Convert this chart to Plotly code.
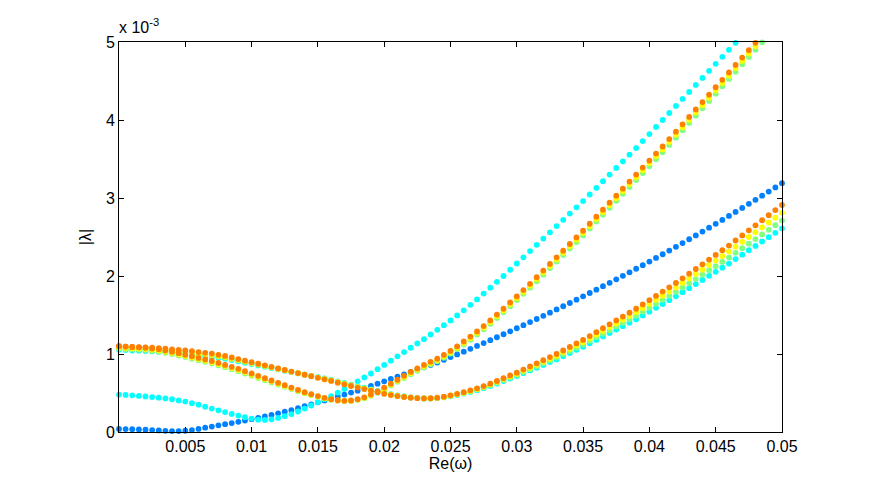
import plotly.graph_objects as go

# Re(omega) grid step (every curve sampled at the same Re(omega) values)
RE_STEP = 0.0005

# |lambda| values in units of 1e-3
blue = [0.040,0.038,0.035,0.033,0.030,0.025,0.020,0.015,0.012,0.012,0.016,0.025,0.040,0.055,0.070,0.085,0.100,0.115,0.130,0.147,
        0.165,0.182,0.200,0.220,0.240,0.260,0.280,0.305,0.330,0.355,0.380,0.405,0.430,0.455,0.480,0.505,0.530,0.560,0.590,0.620,
        0.650,0.680,0.710,0.740,0.770,0.800,0.830,0.860,0.890,0.925,0.960,0.995,1.030,1.066,1.103,1.140,1.177,1.215,1.253,1.291,
        1.330,1.370,1.409,1.449,1.489,1.530,1.571,1.612,1.654,1.696,1.739,1.782,1.825,1.869,1.913,1.957,2.002,2.047,2.093,2.139,
        2.185,2.232,2.279,2.326,2.374,2.422,2.471,2.520,2.569,2.619,2.669,2.719,2.770,2.821,2.873,2.925,2.977,3.030,3.083,3.136,3.190]

cyan_a = [0.480,0.475,0.470,0.463,0.455,0.448,0.440,0.430,0.420,0.405,0.390,0.370,0.350,0.325,0.300,0.278,0.255,0.232,0.210,0.190,
          0.172,0.158,0.155,0.163,0.180,0.203,0.230,0.263,0.300,0.340,0.380,0.420,0.460,0.505,0.550,0.600,0.650,0.700,0.750,0.805,
          0.860,0.915,0.970,1.025,1.080,1.135,1.190,1.250,1.310,1.370,1.430,1.495,1.560,1.630,1.700,1.775,1.850,1.925,2.000,2.080,
          2.160,2.240,2.320,2.400,2.480,2.560,2.640,2.720,2.800,2.880,2.960,3.045,3.130,3.215,3.300,3.385,3.470,3.555,3.640,3.730,
          3.820,3.910,4.000,4.090,4.180,4.270,4.360,4.450,4.540,4.630,4.720,4.810,4.900,4.990]

cyan_b = [1.055,1.050,1.045,1.043,1.040,1.035,1.030,1.023,1.015,1.008,1.000,0.990,0.980,0.972,0.963,0.951,0.939,0.922,0.905,0.888,
          0.871,0.854,0.837,0.820,0.803,0.786,0.769,0.752,0.735,0.720,0.704,0.687,0.670,0.649,0.628,0.608,0.588,0.567,0.545,0.524,
          0.502,0.485,0.469,0.455,0.443,0.436,0.431,0.430,0.434,0.444,0.458,0.474,0.492,0.513,0.536,0.562,0.590,0.621,0.654,0.686,
          0.718,0.754,0.789,0.825,0.860,0.896,0.931,0.972,1.012,1.053,1.093,1.137,1.181,1.225,1.269,1.313,1.357,1.401,1.445,1.494,
          1.543,1.592,1.641,1.690,1.739,1.792,1.844,1.897,1.949,2.002,2.054,2.107,2.159,2.217,2.274,2.330,2.386,2.442,2.498,2.554,2.610]

green_a = [1.070,1.065,1.060,1.055,1.050,1.040,1.030,1.015,1.000,0.980,0.960,0.940,0.920,0.900,0.880,0.855,0.830,0.805,0.780,0.750,
           0.720,0.692,0.664,0.636,0.608,0.580,0.552,0.524,0.496,0.473,0.450,0.430,0.414,0.403,0.396,0.399,0.412,0.433,0.464,0.502,
           0.546,0.595,0.644,0.692,0.741,0.785,0.829,0.868,0.906,0.953,1.004,1.061,1.122,1.183,1.249,1.316,1.387,1.461,1.534,1.613,
           1.692,1.771,1.850,1.933,2.017,2.101,2.185,2.269,2.352,2.436,2.520,2.609,2.698,2.786,2.875,2.964,3.053,3.142,3.230,3.319,
           3.408,3.497,3.586,3.680,3.774,3.868,3.962,4.056,4.150,4.244,4.338,4.432,4.526,4.620,4.714,4.808,4.902,4.996]

green_b = [1.070,1.065,1.060,1.058,1.055,1.050,1.045,1.038,1.030,1.023,1.015,1.005,0.995,0.986,0.977,0.964,0.951,0.933,0.915,0.897,
           0.879,0.861,0.843,0.825,0.807,0.789,0.771,0.753,0.735,0.718,0.701,0.683,0.665,0.643,0.622,0.602,0.582,0.561,0.540,0.519,
           0.498,0.481,0.466,0.453,0.442,0.435,0.431,0.431,0.436,0.447,0.462,0.479,0.498,0.520,0.544,0.571,0.600,0.632,0.666,0.699,
           0.732,0.769,0.806,0.843,0.880,0.917,0.954,0.996,1.038,1.080,1.122,1.168,1.214,1.260,1.306,1.352,1.398,1.444,1.490,1.541,
           1.592,1.643,1.694,1.745,1.796,1.851,1.906,1.961,2.016,2.071,2.126,2.181,2.236,2.296,2.356,2.415,2.474,2.533,2.592,2.651,2.710]

yellow_a = [1.085,1.080,1.075,1.070,1.065,1.055,1.045,1.030,1.015,0.995,0.975,0.955,0.935,0.915,0.895,0.870,0.845,0.820,0.795,0.765,
            0.735,0.706,0.677,0.648,0.619,0.590,0.561,0.532,0.503,0.479,0.455,0.434,0.417,0.405,0.398,0.402,0.416,0.439,0.472,0.512,
            0.558,0.607,0.657,0.706,0.756,0.800,0.844,0.884,0.923,0.971,1.022,1.079,1.141,1.203,1.270,1.337,1.408,1.483,1.557,1.637,
            1.716,1.795,1.875,1.959,2.044,2.128,2.212,2.297,2.381,2.466,2.550,2.639,2.729,2.818,2.908,2.997,3.086,3.176,3.265,3.355,
            3.444,3.534,3.623,3.718,3.812,3.907,4.001,4.096,4.190,4.285,4.379,4.474,4.568,4.663,4.757,4.852,4.946]

yellow_b = [1.085,1.080,1.075,1.073,1.070,1.065,1.060,1.053,1.045,1.038,1.030,1.020,1.010,1.000,0.991,0.977,0.963,0.944,0.925,0.906,
            0.887,0.868,0.849,0.830,0.811,0.792,0.773,0.754,0.735,0.717,0.698,0.679,0.660,0.638,0.616,0.596,0.576,0.556,0.535,0.515,
            0.494,0.478,0.463,0.451,0.441,0.435,0.431,0.432,0.438,0.450,0.466,0.484,0.504,0.527,0.552,0.580,0.610,0.643,0.678,0.712,
            0.746,0.785,0.823,0.862,0.900,0.939,0.977,1.021,1.064,1.108,1.151,1.199,1.247,1.295,1.343,1.391,1.439,1.487,1.535,1.588,
            1.641,1.694,1.747,1.800,1.853,1.911,1.968,2.026,2.083,2.141,2.198,2.256,2.313,2.376,2.438,2.500,2.562,2.624,2.686,2.748,2.810]

orange_a = [1.100,1.095,1.090,1.085,1.080,1.070,1.060,1.045,1.030,1.010,0.990,0.970,0.950,0.930,0.910,0.885,0.860,0.835,0.810,0.780,
            0.750,0.720,0.690,0.660,0.630,0.600,0.570,0.540,0.510,0.485,0.460,0.438,0.420,0.407,0.400,0.405,0.420,0.445,0.480,0.522,
            0.570,0.620,0.670,0.720,0.770,0.815,0.860,0.900,0.940,0.988,1.040,1.098,1.160,1.223,1.290,1.358,1.430,1.505,1.580,1.660,
            1.740,1.820,1.900,1.985,2.070,2.155,2.240,2.325,2.410,2.495,2.580,2.670,2.760,2.850,2.940,3.030,3.120,3.210,3.300,3.390,
            3.480,3.570,3.660,3.755,3.850,3.945,4.040,4.135,4.230,4.325,4.420,4.515,4.610,4.705,4.800,4.895,4.990]

orange_b = [1.100,1.095,1.090,1.088,1.085,1.080,1.075,1.068,1.060,1.053,1.045,1.035,1.025,1.015,1.005,0.990,0.975,0.955,0.935,0.915,
            0.895,0.875,0.855,0.835,0.815,0.795,0.775,0.755,0.735,0.715,0.695,0.675,0.655,0.632,0.610,0.590,0.570,0.550,0.530,0.510,
            0.490,0.474,0.460,0.449,0.440,0.434,0.431,0.433,0.440,0.453,0.470,0.489,0.510,0.534,0.560,0.589,0.620,0.654,0.690,0.725,
            0.760,0.800,0.840,0.880,0.920,0.960,1.000,1.045,1.090,1.135,1.180,1.230,1.280,1.330,1.380,1.430,1.480,1.530,1.580,1.635,
            1.690,1.745,1.800,1.855,1.910,1.970,2.030,2.090,2.150,2.210,2.270,2.330,2.390,2.455,2.520,2.585,2.650,2.715,2.780,2.845,2.910]

X_TICKS = [0.005, 0.01, 0.015, 0.02, 0.025, 0.03, 0.035, 0.04, 0.045, 0.05]
X_TICK_LABELS = ["0.005", "0.01", "0.015", "0.02", "0.025", "0.03", "0.035", "0.04", "0.045", "0.05"]
Y_TICKS = [0, 1, 2, 3, 4, 5]
Y_TICK_LABELS = ["0", "1", "2", "3", "4", "5"]

COL_BLUE = "#0080FF"
COL_CYAN = "#00FFFF"
COL_GREEN = "#80FF80"
COL_YELLOW = "#FFFF00"
COL_ORANGE = "#FF8000"

series = [
    (blue, COL_BLUE),
    (cyan_a, COL_CYAN), (cyan_b, COL_CYAN),
    (green_a, COL_GREEN), (green_b, COL_GREEN),
    (yellow_a, COL_YELLOW), (yellow_b, COL_YELLOW),
    (orange_a, COL_ORANGE), (orange_b, COL_ORANGE),
]

fig = go.Figure()
for vals, col in series:
    xs = [round(i * RE_STEP, 6) for i in range(len(vals))]
    fig.add_trace(go.Scatter(
        x=xs, y=vals, mode="markers",
        marker=dict(color=col, size=5.8, line=dict(width=0)),
        cliponaxis=False, showlegend=False, hoverinfo="skip"))

FONT = "Liberation Sans, Arial, Helvetica, sans-serif"
axis_common = dict(showline=True, linecolor="black", linewidth=1, mirror="allticks",
                   ticks="inside", ticklen=5, tickcolor="black", tickwidth=1,
                   showgrid=False, zeroline=False,
                   tickfont=dict(family=FONT, size=16, color="black"))

fig.update_layout(
    width=872, height=488,
    margin=dict(l=119, r=90, t=42, b=56),
    paper_bgcolor="white", plot_bgcolor="white",
    xaxis=dict(range=[0, 0.05], tickvals=X_TICKS, ticktext=X_TICK_LABELS,
               title=dict(text="Re(ω)", font=dict(family=FONT, size=16, color="black"), standoff=3),
               **axis_common),
    yaxis=dict(range=[0, 5], tickvals=Y_TICKS, ticktext=Y_TICK_LABELS,
               title=dict(text="|λ|", font=dict(family=FONT, size=16, color="black"), standoff=10),
               **axis_common),
    annotations=[dict(text="x 10<sup>-3</sup>", x=0, y=1, xref="paper", yref="paper",
                      xanchor="left", yanchor="bottom", showarrow=False, xshift=-2, yshift=4,
                      font=dict(family=FONT, size=16, color="black"))],
)

fig.write_html("out.html", config={"displayModeBar": False},
               post_script="document.body.style.margin='0';document.body.style.padding='0';")
